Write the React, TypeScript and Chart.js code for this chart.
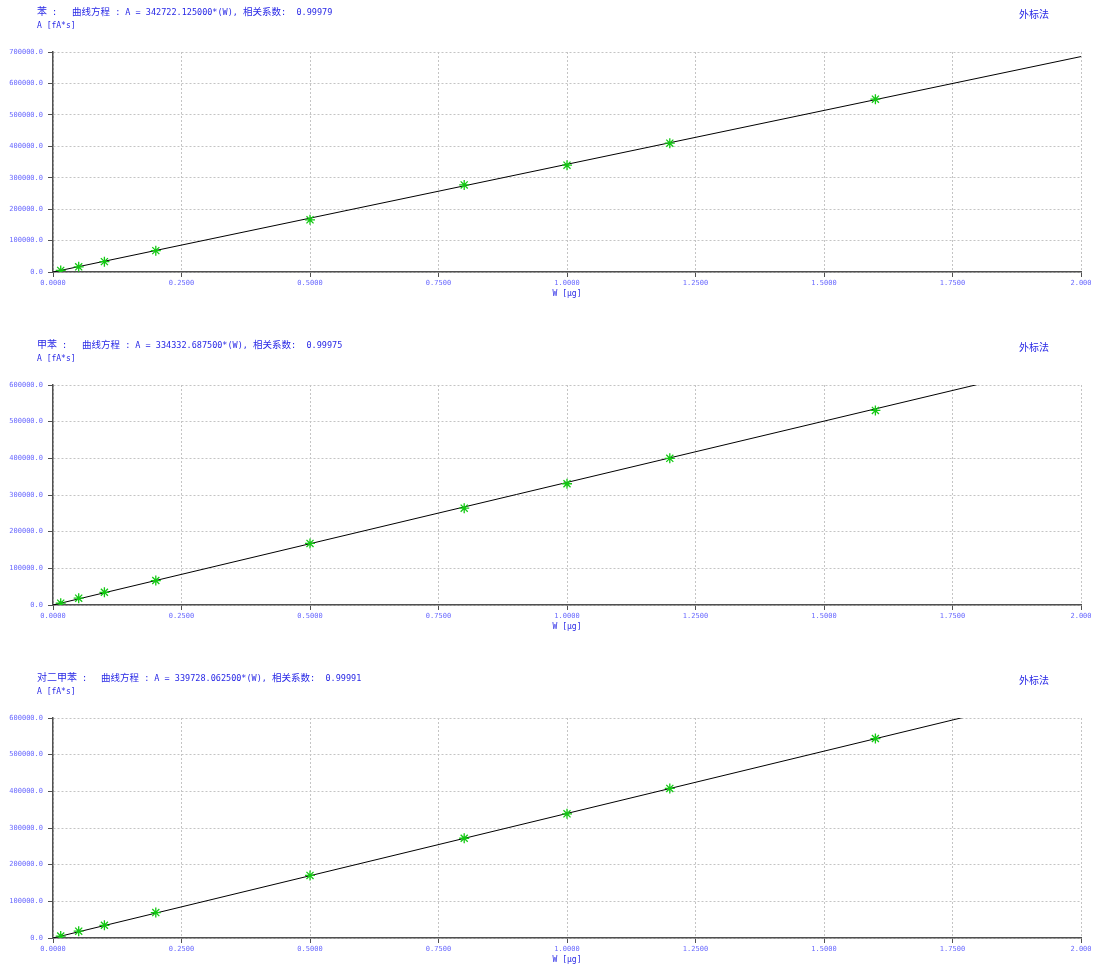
import React, { useEffect, useRef } from "react";
import { Chart, registerables } from "chart.js";

Chart.register(...registerables);

// ---- data ----
const compounds = ["苯", "甲苯", "对二甲苯"];
const equations = ["A = 342722.125000*(W)", "A = 334332.687500*(W)", "A = 339728.062500*(W)"];
const correlations = ["0.99979", "0.99975", "0.99991"];
const methodLabel = "外标法";
const yAxisTitle = "A [fA*s]";
const xAxisTitle = "W [μg]";

const wValues = [0.015, 0.05, 0.1, 0.2, 0.5, 0.8, 1.0, 1.2, 1.6];
const benzeneA = [5000, 16500, 33000, 68000, 166000, 277000, 340000, 410000, 550000];
const tolueneA = [5000, 18700, 34700, 66700, 168000, 264000, 330700, 400000, 530700];
const xyleneA = [5300, 18700, 34700, 69300, 170700, 272000, 338700, 408000, 544000];

const lineW = [0, 2.0];
const benzeneLine = [0, 685444];
const tolueneLine = [0, 668665];
const xyleneLine = [0, 679456];

const yMaxes = [700000, 600000, 600000];
const xTickLabels = ["0.0000", "0.2500", "0.5000", "0.7500", "1.0000", "1.2500", "1.5000", "1.7500", "2.000"];

const seriesValues = [benzeneA, tolueneA, xyleneA];
const lineValues = [benzeneLine, tolueneLine, xyleneLine];

// ---- styles ----
const TITLE_BLUE = "rgb(40,40,230)";
const TICK_BLUE = "rgb(105,105,255)";
const AXIS = "#505050";
const GRID = "#c4c4c4";
const MONO = '"DejaVu Sans Mono", "Liberation Mono", monospace';
const CJK = '"Noto Sans CJK SC", sans-serif';
const PANEL_H = 333;
const panelTops = [0, 333, 666];
const eqLefts = [72, 82, 101];

function Mixed({ text, cjkSize, latinSize }: { text: string; cjkSize: number; latinSize: number }) {
  const parts = text.split(/([\u3000-\u9fff\uff00-\uffef]+)/).filter((p) => p.length > 0);
  return (
    <>
      {parts.map((p, i) => {
        const isCjk = /[\u3000-\u9fff\uff00-\uffef]/.test(p);
        return (
          <span key={i} style={{ fontFamily: isCjk ? CJK : MONO, fontSize: isCjk ? cjkSize : latinSize }}>
            {p}
          </span>
        );
      })}
    </>
  );
}

function Panel({ idx }: { idx: number }) {
  const ref = useRef<HTMLCanvasElement | null>(null);
  useEffect(() => {
    if (!ref.current) return;
    const values = seriesValues[idx];
    const line = lineValues[idx];
    const chart = new Chart(ref.current, {
      type: "scatter",
      data: {
        datasets: [
          {
            data: lineW.map((w, i) => ({ x: w, y: line[i] })),
            showLine: true,
            borderColor: "#000000",
            borderWidth: 1,
            pointRadius: 0,
            order: 2,
          },
          {
            data: wValues.map((w, i) => ({ x: w, y: values[i] })),
            pointStyle: "star",
            pointRadius: 5,
            borderColor: "#12c812",
            backgroundColor: "#12c812",
            pointBorderWidth: 1.3,
            showLine: false,
            order: 1,
          },
        ],
      },
      options: {
        animation: false,
        responsive: false,
        events: [],
        layout: { padding: { top: 52, right: 16, left: 0, bottom: 0 } },
        plugins: { legend: { display: false }, tooltip: { enabled: false } },
        scales: {
          x: {
            type: "linear",
            min: 0,
            max: 2,
            afterFit: (s: any) => {
              s.height = 61;
            },
            ticks: {
              stepSize: 0.25,
              autoSkip: false,
              maxRotation: 0,
              padding: 2,
              color: TICK_BLUE,
              font: { family: MONO, size: 7 },
              callback: (_v: any, i: number) => xTickLabels[i],
            },
            grid: { color: GRID, lineWidth: 1, tickColor: AXIS, tickLength: 5, tickBorderDash: [] },
            border: { color: AXIS, width: 1.5, dash: [2, 2] },
            title: {
              display: true,
              text: xAxisTitle,
              color: TITLE_BLUE,
              font: { family: MONO, size: 8 },
              padding: { top: 0, bottom: 34 },
            },
          },
          y: {
            type: "linear",
            min: 0,
            max: yMaxes[idx],
            afterFit: (s: any) => {
              s.width = 53;
            },
            ticks: {
              stepSize: 100000,
              padding: 5,
              color: TICK_BLUE,
              font: { family: MONO, size: 7 },
              callback: (v: any) => Number(v).toFixed(1),
            },
            grid: { color: GRID, lineWidth: 1, tickColor: AXIS, tickLength: 5, tickBorderDash: [] },
            border: { color: AXIS, width: 1.5, dash: [2, 2] },
          },
        },
      },
    } as any);
    return () => chart.destroy();
  }, [idx]);

  return (
    <div style={{ position: "absolute", left: 0, top: panelTops[idx], width: 1097, height: PANEL_H }}>
      <canvas ref={ref} width={1097} height={PANEL_H} style={{ display: "block", position: "absolute", left: 0, top: 0 }} />
      <div style={{ position: "absolute", left: 37, top: 3, height: 14, lineHeight: "14px", color: TITLE_BLUE, whiteSpace: "pre" }}>
        <Mixed text={`${compounds[idx]} :`} cjkSize={10} latinSize={8.5} />
      </div>
      <div style={{ position: "absolute", left: eqLefts[idx], top: 3, height: 14, lineHeight: "14px", color: TITLE_BLUE, whiteSpace: "pre" }}>
        <Mixed text={`曲线方程 : ${equations[idx]}, 相关系数:  ${correlations[idx]}`} cjkSize={9.5} latinSize={8.5} />
      </div>
      <div style={{ position: "absolute", left: 37, top: 19, height: 14, lineHeight: "14px", color: TITLE_BLUE, whiteSpace: "pre", fontFamily: MONO, fontSize: 8 }}>
        {yAxisTitle}
      </div>
      <div style={{ position: "absolute", left: 1019, top: 7, height: 14, lineHeight: "14px", color: TITLE_BLUE, whiteSpace: "pre", fontFamily: CJK, fontSize: 10 }}>
        {methodLabel}
      </div>
    </div>
  );
}

export default function App() {
  return (
    <div style={{ position: "absolute", left: 0, top: 0, width: 1097, height: 970, overflow: "hidden", background: "#ffffff" }}>
      {compounds.map((_, i) => (
        <Panel key={i} idx={i} />
      ))}
    </div>
  );
}
